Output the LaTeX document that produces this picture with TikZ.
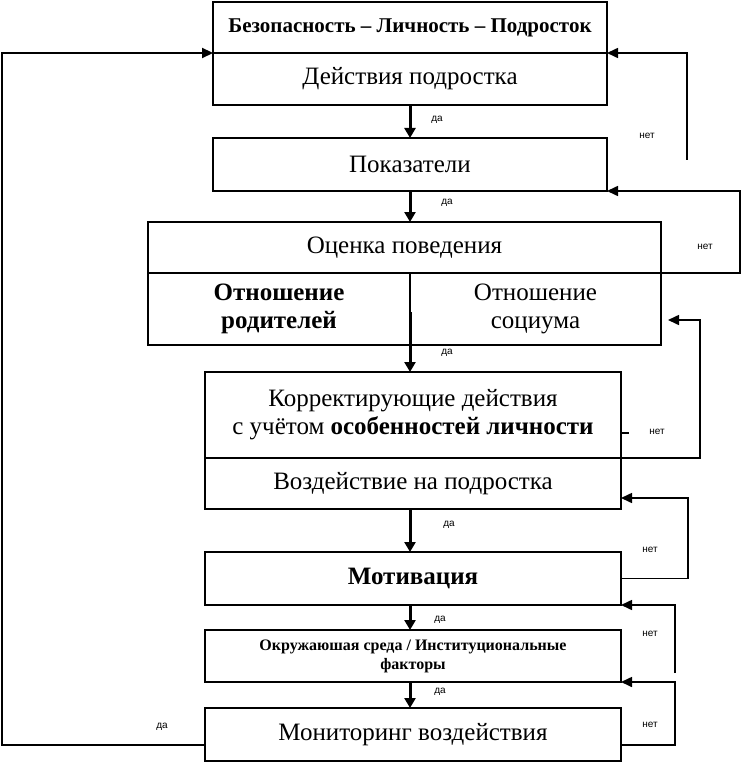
\documentclass[tikz,border=0pt]{standalone}
\usepackage{fontspec}
\setmainfont{Liberation Serif}
\newfontfamily\notefont{Liberation Sans}
\usetikzlibrary{arrows.meta, positioning, calc}
\tikzset{
    blockbox/.style={draw, line width=2pt, inner sep=0pt, outer sep=0pt,
        align=center, font=\fontsize{25}{28}\selectfont},
    smallbox/.style={blockbox, font=\bfseries\fontsize{16}{19}\selectfont},
    downarrow/.style={line width=3pt, -{Triangle[length=10pt, width=11pt]}},
    loopline/.style={line width=1.6pt, -{Triangle[length=11pt, width=10pt]}},
    notelabel/.style={font=\notefont\fontsize{10}{11}\selectfont},
}
\begin{document}
\begin{tikzpicture}[x=1pt, y=-1pt]
        \useasboundingbox (0, 0) rectangle (741, 762);
        \coordinate (spine) at (410, 0);
        % blocks
        \node[blockbox, minimum width=394pt, minimum height=51pt,
            font=\bfseries\fontsize{21}{24}\selectfont] (safety) at (410, 27.5)
            {Безопасность – Личность – Подросток};
        \node[blockbox, minimum width=394pt, minimum height=52pt] (teenacts)
            at (410, 79) {Действия подростка};
        \node[blockbox, minimum width=394pt, minimum height=53pt] (indicators)
            at (410, 164.5) {Показатели};
        \node[blockbox, minimum width=513pt, minimum height=51pt] (behave)
            at (404.5, 247.5) {Оценка поведения};
        \node[blockbox, minimum width=262pt, minimum height=72pt,
            font=\bfseries\fontsize{25}{28}\selectfont] (parents) at (279, 309)
            {Отношение\\родителей};
        \node[blockbox, minimum width=251pt, minimum height=72pt] (society)
            at (535.5, 309) {Отношение\\социума};
        \node[blockbox, minimum width=416pt, minimum height=86pt] (correct)
            at (413, 415) {Корректирующие действия\\с учётом
            \textbf{особенностей личности}};
        \node[blockbox, minimum width=416pt, minimum height=51pt] (impact)
            at (413, 483.5) {Воздействие на подростка};
        \node[blockbox, minimum width=416pt, minimum height=53pt,
            font=\bfseries\fontsize{25}{28}\selectfont] (motive) at (413, 578.5)
            {Мотивация};
        \node[smallbox, minimum width=416pt, minimum height=52pt] (environ)
            at (413, 656) {Окружаюшая среда / Институциональные\\факторы};
        \node[blockbox, minimum width=416pt, minimum height=53pt] (monitor)
            at (413, 734.5) {Мониторинг воздействия};
        % forward arrows (да)
        \draw[downarrow] (teenacts.south) -- (indicators.north);
        \draw[downarrow] (indicators.south) -- (indicators.south |- behave.north);
        \draw[downarrow] ([yshift=33pt]parents.south east)
            -- (parents.south east |- correct.north);
        \draw[downarrow] (impact.south -| spine) -- (motive.north -| spine);
        \draw[downarrow] (motive.south -| spine) -- (environ.north -| spine);
        \draw[downarrow] (environ.south -| spine) -- (monitor.north -| spine);
        \draw[loopline, line width=2.2pt] ([yshift=-10.5pt]monitor.west)
            -| (2, 53) -- (teenacts.north west);
        % return loops (нет)
        \draw[loopline] (687, 160) |- (teenacts.north east);
        \draw[loopline] (behave.south east) -| (740, 191)
            -- (indicators.south east);
        \draw[loopline] (impact.north east) -| (700, 320) -- (668, 320);
        \draw[line width=1.6pt] ([yshift=25pt]correct.south east) -- ++(8, 0);
        \draw[loopline] (motive.east) -| (688, 498)
            -- ([yshift=-14.5pt]impact.east);
        \draw[loopline] (675, 673) -- (675, 605) -- (motive.south east);
        \draw[loopline] ([yshift=-10.5pt]monitor.east) -| (675, 682)
            -- (environ.south east);
        % labels
        \foreach \x/\y in {437/120, 447/203, 447/353, 449/525, 440/620,
            440/692, 162/727}
            \node[notelabel] at (\x, \y) {да};
        \foreach \x/\y in {647/136, 705/247, 657/432, 650/550, 650/634,
            650/725}
            \node[notelabel] at (\x, \y) {нет};
    \end{tikzpicture}
\end{document}
